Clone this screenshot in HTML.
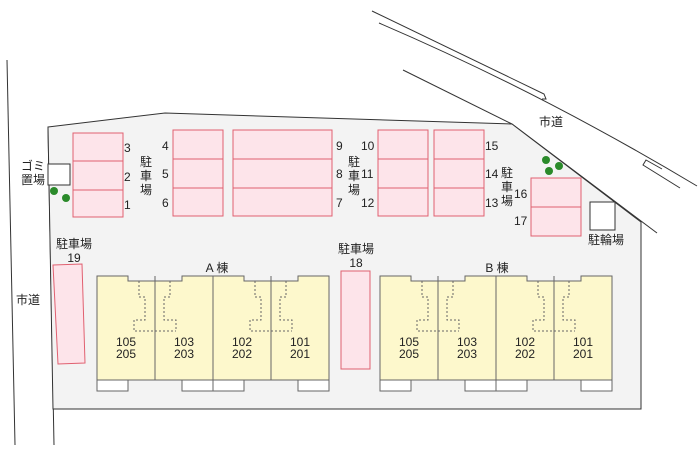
<!DOCTYPE html>
<html><head><meta charset="utf-8"><style>body{margin:0;background:#fff}svg{display:block}text{font-family:"Liberation Sans","Noto Sans CJK JP",sans-serif;font-size:12px;fill:#222}</style></head><body>
<svg width="700" height="461" viewBox="0 0 700 461" xmlns="http://www.w3.org/2000/svg">
<defs>
<g id="pair">
<path d="M0 0 H31 V5 H85 V0 H116 V104 H0 Z" fill="#fdf8cc" stroke="#666" stroke-width="1"/>
<line x1="58" y1="0" x2="58" y2="104" stroke="#666"/>
<path d="M42 5 V21 H48 V44 H37 V55 H79 M73 5 V21 H67 V44 H79 V55" fill="none" stroke="#666" stroke-dasharray="2,2"/>
<rect x="0" y="104" width="31" height="11" fill="#fff" stroke="#666"/>
<rect x="85" y="104" width="31" height="11" fill="#fff" stroke="#666"/>
</g>
</defs>
<g stroke="#333" stroke-width="1" fill="none">
<line x1="7" y1="60" x2="15" y2="445"/>
<line x1="48" y1="127" x2="54" y2="445"/>
<path d="M372 11 L544 94 L546 99 L542 99"/>
<path d="M379 23 Q540 92 697 186"/>
<path d="M680 188 L643 165 L646 160 L662 169"/>
<line x1="403" y1="70" x2="512" y2="124"/>
<line x1="512" y1="124" x2="657" y2="233"/>
</g>
<polygon points="48,127 165,113 512,124 641,222 641,409 53,409" fill="#f3f3f3" stroke="#333"/>
<g fill="#fde4ea" stroke="#e06070" stroke-width="1">
<rect x="73" y="133" width="50" height="84"/><line x1="73" y1="161" x2="123" y2="161"/><line x1="73" y1="190" x2="123" y2="190"/>
<rect x="173" y="130" width="50" height="86"/><line x1="173" y1="159" x2="223" y2="159"/><line x1="173" y1="188" x2="223" y2="188"/>
<rect x="233" y="130" width="99" height="86"/><line x1="233" y1="159" x2="332" y2="159"/><line x1="233" y1="188" x2="332" y2="188"/>
<rect x="378" y="130" width="50" height="86"/><line x1="378" y1="159" x2="428" y2="159"/><line x1="378" y1="188" x2="428" y2="188"/>
<rect x="434" y="130" width="50" height="86"/><line x1="434" y1="159" x2="484" y2="159"/><line x1="434" y1="188" x2="484" y2="188"/>
<rect x="531" y="178" width="50" height="58"/><line x1="531" y1="207" x2="581" y2="207"/>
<polygon points="53,265 82,264 85,363 58,364"/>
<rect x="341" y="271" width="29" height="98"/>
</g>
<rect x="48" y="164" width="22" height="21" fill="#fff" stroke="#333"/>
<rect x="590" y="202" width="25" height="28" fill="#fff" stroke="#333"/>
<g fill="#2a8a2a"><circle cx="54" cy="191" r="4"/><circle cx="66" cy="198" r="4"/><circle cx="546" cy="160" r="4"/><circle cx="549" cy="171" r="4"/><circle cx="559" cy="166" r="4"/></g>
<use href="#pair" x="97" y="276"/><use href="#pair" x="213" y="276"/>
<use href="#pair" x="380" y="276"/><use href="#pair" x="496" y="276"/>
<g font-size="13">
<text x="124" y="152">3</text><text x="124" y="181">2</text><text x="124" y="209">1</text>
<text x="162" y="150">4</text><text x="162" y="178">5</text><text x="162" y="207">6</text>
<text x="336" y="150">9</text><text x="336" y="178">8</text><text x="336" y="207">7</text>
<text x="361" y="150">10</text><text x="361" y="178">11</text><text x="361" y="207">12</text>
<text x="485" y="150">15</text><text x="485" y="178">14</text><text x="485" y="207">13</text>
<text x="514" y="198">16</text><text x="514" y="225">17</text>
</g>
<g text-anchor="middle">
<text x="146" y="166">駐</text><text x="146" y="180">車</text><text x="146" y="194">場</text>
<text x="354" y="166">駐</text><text x="354" y="180">車</text><text x="354" y="194">場</text>
<text x="507" y="177">駐</text><text x="507" y="191">車</text><text x="507" y="205">場</text>
<text x="33" y="170">ゴミ</text><text x="33" y="184">置場</text>
<text x="74" y="248">駐車場</text><text x="74" y="262">19</text>
<text x="356" y="253">駐車場</text><text x="356" y="267">18</text>
<text x="217" y="272">A 棟</text><text x="497" y="272">B 棟</text>
<text x="551" y="126">市道</text><text x="28" y="304">市道</text><text x="606" y="244">駐輪場</text>
</g>
<g text-anchor="middle" font-size="13">
<text x="126" y="346">105</text><text x="126" y="358">205</text>
<text x="184" y="346">103</text><text x="184" y="358">203</text>
<text x="242" y="346">102</text><text x="242" y="358">202</text>
<text x="300" y="346">101</text><text x="300" y="358">201</text>
<text x="409" y="346">105</text><text x="409" y="358">205</text>
<text x="467" y="346">103</text><text x="467" y="358">203</text>
<text x="525" y="346">102</text><text x="525" y="358">202</text>
<text x="583" y="346">101</text><text x="583" y="358">201</text>
</g>
</svg>
</body></html>
